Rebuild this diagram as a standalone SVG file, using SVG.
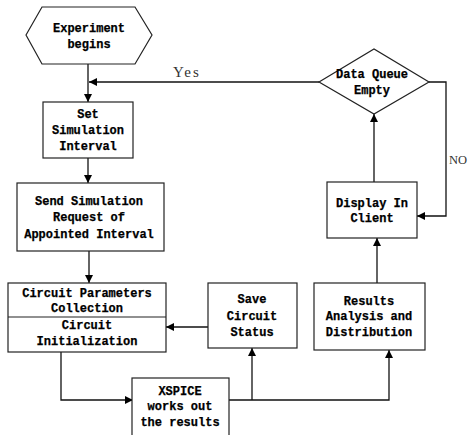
<svg xmlns="http://www.w3.org/2000/svg" width="468" height="435" viewBox="0 0 468 435">
  <style>
    .shape { fill: #fff; stroke: #222; stroke-width: 1.2; }
    .conn { fill: none; stroke: #111; stroke-width: 1.3; }
    .lbl { font-family: "Liberation Mono", "DejaVu Sans Mono", monospace; font-weight: bold; font-size: 12px; fill: #000; text-anchor: middle; stroke: #000; stroke-width: 0.25; }
    .edge-lbl { font-family: "Liberation Serif", "DejaVu Serif", serif; font-size: 15px; fill: #333; }
    .edge-lbl.narrow { font-size: 12.5px; }
  </style>
  <defs>
    <marker id="arrow" viewBox="0 0 10 10" refX="10" refY="5" markerWidth="9" markerHeight="8" markerUnits="userSpaceOnUse" orient="auto">
      <path d="M0,0 L10,5 L0,10 z" fill="#000"/>
    </marker>
  </defs>

  <rect width="468" height="435" fill="#fff"/>

  <!-- connectors -->
  <g id="connectors">
    <path class="conn" d="M88,64 V102" marker-end="url(#arrow)"/>
    <path class="conn" d="M88,158 V183" marker-end="url(#arrow)"/>
    <path class="conn" d="M89,251 V283" marker-end="url(#arrow)"/>
    <path class="conn" d="M319,82 H89" marker-end="url(#arrow)"/>
    <path class="conn" d="M61,352 V400 H133" marker-end="url(#arrow)"/>
    <path class="conn" d="M229,400 H389 V350" marker-end="url(#arrow)"/>
    <path class="conn" d="M252,400 V348" marker-end="url(#arrow)"/>
    <path class="conn" d="M208,327 H166" marker-end="url(#arrow)"/>
    <path class="conn" d="M377,283 V238" marker-end="url(#arrow)"/>
    <path class="conn" d="M374,182 V114" marker-end="url(#arrow)"/>
    <path class="conn" d="M429,82 H446 V216 H417" marker-end="url(#arrow)"/>
    <text class="edge-lbl" x="173" y="77" letter-spacing="2">Yes</text>
    <text class="edge-lbl narrow" x="449" y="164">NO</text>
  </g>

  <g id="start">
    <polygon class="shape" points="26,35 42,7 135,7 152,35 135,64 42,64"/>
    <text class="lbl" x="89" y="32">Experiment</text>
    <text class="lbl" x="89" y="48">begins</text>
  </g>

  <g id="set-interval">
    <rect class="shape" x="43" y="102" width="90" height="56"/>
    <text class="lbl" x="88" y="118">Set</text>
    <text class="lbl" x="88" y="134">Simulation</text>
    <text class="lbl" x="88" y="150">Interval</text>
  </g>

  <g id="send-request">
    <rect class="shape" x="17" y="183" width="147" height="68"/>
    <text class="lbl" x="89" y="205">Send Simulation</text>
    <text class="lbl" x="89" y="221">Request of</text>
    <text class="lbl" x="89" y="238">Appointed Interval</text>
  </g>

  <g id="circuit-init">
    <rect class="shape" x="8" y="283" width="158" height="69"/>
    <line class="shape" x1="8" y1="317" x2="166" y2="317"/>
    <text class="lbl" x="87" y="297">Circuit Parameters</text>
    <text class="lbl" x="87" y="312">Collection</text>
    <text class="lbl" x="87" y="329">Circuit</text>
    <text class="lbl" x="87" y="345">Initialization</text>
  </g>

  <g id="xspice">
    <rect class="shape" x="132" y="378" width="97" height="62"/>
    <text class="lbl" x="180" y="395">XSPICE</text>
    <text class="lbl" x="180" y="410">works out</text>
    <text class="lbl" x="180" y="426">the results</text>
  </g>

  <g id="save-status">
    <rect class="shape" x="208" y="283" width="89" height="65"/>
    <text class="lbl" x="252" y="303">Save</text>
    <text class="lbl" x="252" y="320">Circuit</text>
    <text class="lbl" x="252" y="336">Status</text>
  </g>

  <g id="results-analysis">
    <rect class="shape" x="314" y="283" width="111" height="67"/>
    <text class="lbl" x="369" y="305">Results</text>
    <text class="lbl" x="369" y="320">Analysis and</text>
    <text class="lbl" x="369" y="336">Distribution</text>
  </g>

  <g id="display-client">
    <rect class="shape" x="327" y="182" width="90" height="56"/>
    <text class="lbl" x="372" y="207">Display In</text>
    <text class="lbl" x="372" y="222">Client</text>
  </g>

  <g id="queue-empty">
    <polygon class="shape" points="319,82 374,49 429,82 374,114"/>
    <text class="lbl" x="372" y="78">Data Queue</text>
    <text class="lbl" x="372" y="94">Empty</text>
  </g>
</svg>
